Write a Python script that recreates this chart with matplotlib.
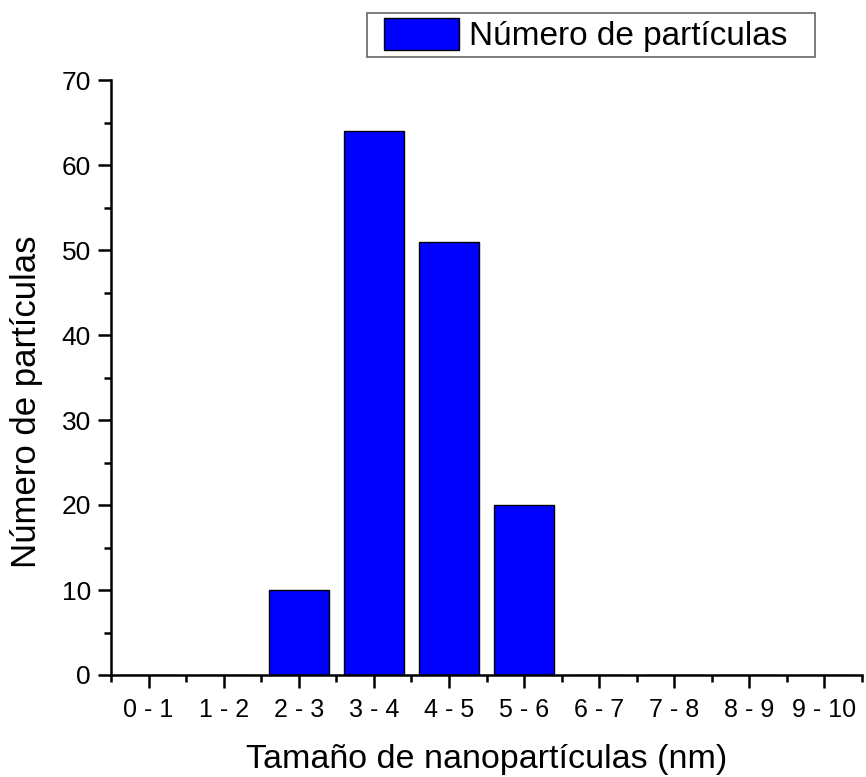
import numpy as np
import matplotlib
matplotlib.use('Agg')
from matplotlib import pyplot as plt
from matplotlib.ticker import MultipleLocator
from matplotlib.legend_handler import HandlerPatch

plt.rcParams['font.family'] = ['Liberation Sans', 'DejaVu Sans']

categories = ['0 - 1', '1 - 2', '2 - 3', '3 - 4', '4 - 5',
              '5 - 6', '6 - 7', '7 - 8', '8 - 9', '9 - 10']
counts = [0, 0, 10, 64, 51, 20, 0, 0, 0, 0]
series_name = 'Número de partículas'

fig = plt.figure(figsize=(8.66, 7.77), dpi=100)
ax = fig.add_axes([111/866, 1-675/777, (862-111)/866, (675-80)/777])

x = np.arange(1, len(categories)+1)
bars = ax.bar(x, counts, width=0.8, color='#0000ff', edgecolor='black',
              linewidth=1.0, label=series_name)

ax.set_xlim(0.5, 10.5)
ax.set_ylim(0, 70)
ax.set_xticks(x)
ax.set_xticklabels(categories)
ax.xaxis.set_minor_locator(MultipleLocator(1, offset=0.5))
ax.yaxis.set_major_locator(MultipleLocator(10))
ax.yaxis.set_minor_locator(MultipleLocator(5))

for s in ['top', 'right']:
    ax.spines[s].set_visible(False)
for s in ['left', 'bottom']:
    ax.spines[s].set_linewidth(1.8)

ax.tick_params(which='major', direction='out', length=9.5, width=1.8)
ax.tick_params(which='minor', direction='out', length=5, width=1.8)
ax.tick_params(axis='y', which='major', labelsize=19, pad=5)
ax.tick_params(axis='x', which='major', labelsize=18, pad=7)

ax.set_xlabel('Tamaño de nanopartículas (nm)', fontsize=24.5, labelpad=16)
ax.set_ylabel('Número de partículas', fontsize=25)
ax.yaxis.set_label_coords(-0.09, 0.46)

# legend box spans the reference frame; patch inset via xpad
leg = fig.legend(handles=[bars.patches[0]], labels=[series_name],
                 loc='upper left', mode='expand',
                 bbox_to_anchor=(367/866, 1-60/777, 448/866, 47/777),
                 fontsize=24, fancybox=False, shadow=False, framealpha=1,
                 handlelength=2.6, handleheight=1.08, handletextpad=0.3,
                 borderpad=0.15, borderaxespad=0,
                 handler_map={matplotlib.patches.Rectangle: HandlerPatch(xpad=0.36)})
leg.get_frame().set_edgecolor('#666666')
leg.get_frame().set_linewidth(1.2)

fig.savefig('out.png', dpi=100)
